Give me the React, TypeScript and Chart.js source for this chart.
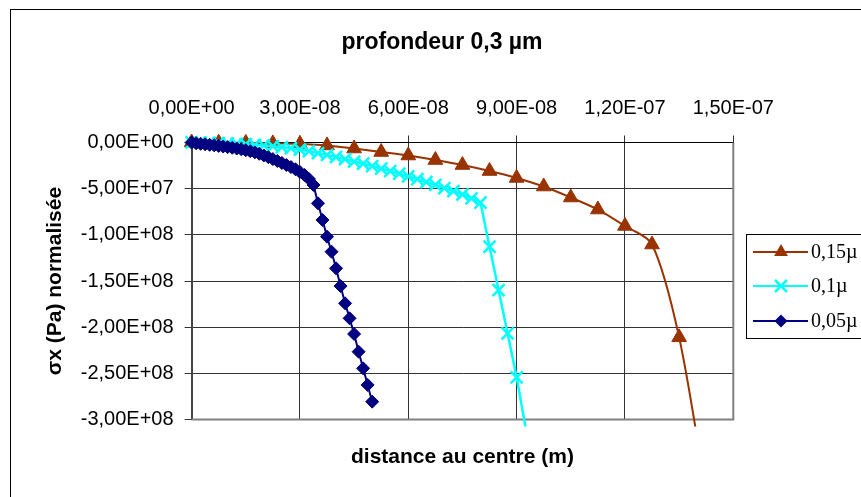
import React, { useEffect, useRef } from "react";
import { Chart, registerables } from "chart.js";

Chart.register(...registerables);

const TITLE = "profondeur 0,3 µm";
const X_TITLE = "distance au centre (m)";
const Y_TITLE = "σx (Pa) normalisée";

const xTicks = [0, 3e-8, 6e-8, 9e-8, 1.2e-7, 1.5e-7];
const yTicks = [0, -5e7, -1e8, -1.5e8, -2e8, -2.5e8, -3e8];

const seriesLabels = ["0,15µ", "0,1µ", "0,05µ"];
const seriesColors = ["#993300", "#00FFFF", "#000080"];

// 0,15µ
const x015 = [0, 7.5e-9, 1.5e-8, 2.25e-8, 3.0e-8, 3.75e-8, 4.5e-8, 5.25e-8, 6.0e-8, 6.75e-8, 7.5e-8, 8.25e-8, 9.0e-8, 9.75e-8, 1.05e-7, 1.125e-7, 1.2e-7, 1.275e-7, 1.35e-7, 1.425e-7];
const y015 = [0, -0.2e6, -0.5e6, -1.0e6, -1.5e6, -3.2e6, -6.5e6, -10.3e6, -14.1e6, -19.0e6, -24.4e6, -30.9e6, -38.4e6, -47.7e6, -59.6e6, -72.6e6, -90.4e6, -110.5e6, -211e6, -380e6];

// 0,1µ
const x01 = [0, 2.5e-9, 5e-9, 7.5e-9, 1e-8, 1.25e-8, 1.5e-8, 1.75e-8, 2e-8, 2.25e-8, 2.5e-8, 2.75e-8, 3e-8, 3.25e-8, 3.5e-8, 3.75e-8, 4e-8, 4.25e-8, 4.5e-8, 4.75e-8, 5e-8, 5.25e-8, 5.5e-8, 5.75e-8, 6e-8, 6.25e-8, 6.5e-8, 6.75e-8, 7e-8, 7.25e-8, 7.5e-8, 7.75e-8, 8e-8, 8.25e-8, 8.5e-8, 8.75e-8, 9e-8, 9.3e-8];
const y01 = [0, -0.1e6, -0.3e6, -0.65e6, -1.0e6, -1.4e6, -1.8e6, -2.5e6, -3.1e6, -4.0e6, -4.9e6, -6.2e6, -7.6e6, -9.4e6, -11.4e6, -13.5e6, -15.7e6, -18.1e6, -20.6e6, -23.0e6, -25.5e6, -28.2e6, -30.9e6, -33.8e6, -36.8e6, -39.7e6, -42.8e6, -46.0e6, -49.3e6, -52.7e6, -56.3e6, -60.4e6, -65.0e6, -112.9e6, -159.8e6, -206.7e6, -254.3e6, -320e6];

// 0,05µ
const x005 = [0, 1.25e-9, 2.5e-9, 3.75e-9, 5e-9, 6.25e-9, 7.5e-9, 8.75e-9, 1e-8, 1.125e-8, 1.25e-8, 1.375e-8, 1.5e-8, 1.625e-8, 1.75e-8, 1.875e-8, 2e-8, 2.125e-8, 2.25e-8, 2.375e-8, 2.5e-8, 2.625e-8, 2.75e-8, 2.875e-8, 3e-8, 3.125e-8, 3.25e-8, 3.375e-8, 3.5e-8, 3.625e-8, 3.75e-8, 3.875e-8, 4e-8, 4.125e-8, 4.25e-8, 4.375e-8, 4.5e-8, 4.625e-8, 4.75e-8, 4.875e-8, 5e-8];
const y005 = [0, -0.76e6, -1.41e6, -1.95e6, -2.49e6, -3.03e6, -3.68e6, -4.33e6, -4.98e6, -5.74e6, -6.5e6, -7.36e6, -8.34e6, -9.42e6, -10.7e6, -12.2e6, -14.0e6, -15.9e6, -18.0e6, -20.0e6, -22.2e6, -24.4e6, -26.6e6, -29.0e6, -32.0e6, -35.2e6, -39.5e6, -46.0e6, -65.9e6, -83.9e6, -102.0e6, -118.3e6, -136.3e6, -155.5e6, -174.2e6, -190.4e6, -207.4e6, -226.6e6, -244.6e6, -262.6e6, -280.7e6];

const SANS = "'Liberation Sans', Arial, sans-serif";
const SERIF = "'Liberation Serif', 'Times New Roman', serif";

function fmtSci(v: number): string {
  if (Math.abs(v) < 1e-30) return "0,00E+00";
  const s = v.toExponential(2);
  const [m, e] = s.split("e");
  const sign = e[0] === "-" ? "-" : "+";
  const digits = e.replace(/^[+-]/, "").padStart(2, "0");
  return m.replace(".", ",") + "E" + sign + digits;
}

function toPts(xs: number[], ys: number[]) {
  return xs.map((x, i) => ({ x, y: ys[i] }));
}

function drawMarker(ctx: CanvasRenderingContext2D, kind: number, x: number, y: number, color: string) {
  ctx.save();
  ctx.fillStyle = color;
  ctx.strokeStyle = color;
  if (kind === 0) {
    const r = 8;
    ctx.beginPath();
    ctx.moveTo(x, y - r);
    ctx.lineTo(x + r * 0.866, y + r / 2);
    ctx.lineTo(x - r * 0.866, y + r / 2);
    ctx.closePath();
    ctx.fill();
  } else if (kind === 1) {
    const d = 6;
    ctx.lineWidth = 2.5;
    ctx.beginPath();
    ctx.moveTo(x - d, y - d);
    ctx.lineTo(x + d, y + d);
    ctx.moveTo(x + d, y - d);
    ctx.lineTo(x - d, y + d);
    ctx.stroke();
  } else {
    const r = 6.5;
    ctx.beginPath();
    ctx.moveTo(x, y - r);
    ctx.lineTo(x + r, y);
    ctx.lineTo(x, y + r);
    ctx.lineTo(x - r, y);
    ctx.closePath();
    ctx.fill();
  }
  ctx.restore();
}

const decorPlugin = {
  id: "decor",
  beforeDraw(chart: any) {
    const ctx = chart.ctx;
    ctx.save();
    ctx.fillStyle = "#ffffff";
    ctx.fillRect(0, 0, chart.width, chart.height);
    ctx.restore();
  },
  beforeDatasetsDraw(chart: any) {
    const { ctx, chartArea } = chart;
    ctx.save();
    ctx.strokeStyle = "#808080";
    ctx.lineWidth = 2;
    ctx.beginPath();
    ctx.moveTo(chartArea.right, chartArea.top);
    ctx.lineTo(chartArea.right, chartArea.bottom);
    ctx.lineTo(chartArea.left, chartArea.bottom);
    ctx.stroke();
    ctx.restore();
  },
  afterDraw(chart: any) {
    const ctx = chart.ctx;
    ctx.save();
    ctx.strokeStyle = "#000000";
    ctx.lineWidth = 1;
    ctx.strokeRect(10.5, 9.5, 900, 600);
    ctx.fillStyle = "#000000";
    ctx.font = "bold 23px " + SANS;
    ctx.textAlign = "center";
    ctx.textBaseline = "middle";
    ctx.fillText(TITLE, 442, 43);
    ctx.strokeStyle = "#000000";
    ctx.lineWidth = 1;
    ctx.strokeRect(746.5, 234.5, 200, 104);
    const rows = [252, 286, 321];
    ctx.font = "20px " + SERIF;
    ctx.textAlign = "left";
    ctx.textBaseline = "middle";
    for (let i = 0; i < 3; i++) {
      const y = rows[i];
      ctx.strokeStyle = seriesColors[i];
      ctx.lineWidth = 2;
      ctx.beginPath();
      ctx.moveTo(753, y);
      ctx.lineTo(808, y);
      ctx.stroke();
      drawMarker(ctx, i, 781, y, seriesColors[i]);
      ctx.fillStyle = "#000000";
      ctx.fillText(seriesLabels[i], 811, y + 1);
    }
    ctx.restore();
  },
};

export default function App() {
  const canvasRef = useRef<HTMLCanvasElement | null>(null);

  useEffect(() => {
    const canvas = canvasRef.current;
    if (!canvas) return;
    const gridColorX = (c: any) => {
      const v = c.tick ? c.tick.value : null;
      return v === 0 || v === 1.5e-7 ? "rgba(0,0,0,0)" : "#333333";
    };
    const gridColorY = (c: any) => {
      const v = c.tick ? c.tick.value : null;
      return v === 0 || v === -3e8 ? "rgba(0,0,0,0)" : "#333333";
    };
    const clip = { left: 12, top: 12, right: 12, bottom: 7 };
    const chart = new Chart(canvas, {
      type: "scatter",
      data: {
        datasets: [
          {
            label: seriesLabels[0],
            data: toPts(x015, y015),
            showLine: true,
            borderColor: seriesColors[0],
            backgroundColor: seriesColors[0],
            borderWidth: 2,
            tension: 0.3,
            pointStyle: "triangle",
            pointRadius: 8.5,
            pointBorderWidth: 1,
            clip,
            order: 3,
          },
          {
            label: seriesLabels[1],
            data: toPts(x01, y01),
            showLine: true,
            borderColor: seriesColors[1],
            backgroundColor: seriesColors[1],
            borderWidth: 2.5,
            tension: 0,
            pointStyle: "crossRot",
            pointRadius: 8.5,
            pointBorderWidth: 2.5,
            clip,
            order: 2,
          },
          {
            label: seriesLabels[2],
            data: toPts(x005, y005),
            showLine: true,
            borderColor: seriesColors[2],
            backgroundColor: seriesColors[2],
            borderWidth: 2,
            tension: 0,
            pointStyle: "rectRot",
            pointRadius: 6.5,
            pointBorderWidth: 1,
            clip,
            order: 1,
          },
        ] as any,
      },
      options: {
        animation: false,
        responsive: false,
        devicePixelRatio: 1,
        layout: { padding: { left: 0, right: 127.7, top: 92.5, bottom: 0 } },
        plugins: {
          legend: { display: false },
          title: { display: false },
          tooltip: { enabled: false },
        },
        scales: {
          x: {
            type: "linear",
            position: "top",
            min: 0,
            max: 1.5e-7,
            afterBuildTicks: (s: any) => {
              s.ticks = xTicks.map((v) => ({ value: v }));
            },
            afterFit: (s: any) => {
              s.height = 50;
            },
            ticks: {
              color: "#000000",
              font: { family: SANS, size: 20 },
              padding: 15,
              maxRotation: 0,
              autoSkip: false,
              callback: (v: any) => fmtSci(Number(v)),
            },
            grid: {
              color: gridColorX,
              borderDash: [6, 4],
              tickColor: "#333333",
              tickLength: 7,
              lineWidth: 1,
            } as any,
            border: { display: true, color: "#000000", width: 1, dash: [] },
          },
          x2: {
            type: "linear",
            position: "bottom",
            min: 0,
            max: 1.5e-7,
            afterFit: (s: any) => {
              s.height = 77.5;
            },
            ticks: { display: false },
            grid: { display: false, drawTicks: false },
            border: { display: false },
            title: {
              display: true,
              text: X_TITLE,
              color: "#000000",
              font: { family: SANS, size: 21, weight: "bold" },
              padding: { top: 0, bottom: 27.4 },
            },
          },
          y: {
            type: "linear",
            position: "left",
            min: -3e8,
            max: 0,
            afterBuildTicks: (s: any) => {
              s.ticks = yTicks.map((v) => ({ value: v }));
            },
            afterFit: (s: any) => {
              s.width = 191.6;
            },
            ticks: {
              color: "#000000",
              font: { family: SANS, size: 20 },
              padding: 11,
              autoSkip: false,
              callback: (v: any) => fmtSci(Number(v)),
            },
            grid: {
              color: gridColorY,
              borderDash: [6, 4],
              tickColor: "#333333",
              tickLength: 7,
              lineWidth: 1,
            } as any,
            border: { display: true, color: "#444444", width: 2 },
            title: {
              display: true,
              text: Y_TITLE,
              color: "#000000",
              font: { family: SANS, size: 21, weight: "bold" },
              padding: { top: 42.4, bottom: 0 },
            },
          },
        },
      } as any,
      plugins: [decorPlugin],
    });
    return () => chart.destroy();
  }, []);

  return (
    <div style={{ position: "fixed", left: 0, top: 0, width: 861, height: 497, background: "#fff" }}>
      <canvas ref={canvasRef} width={861} height={497} style={{ display: "block", width: 861, height: 497 }} />
    </div>
  );
}
